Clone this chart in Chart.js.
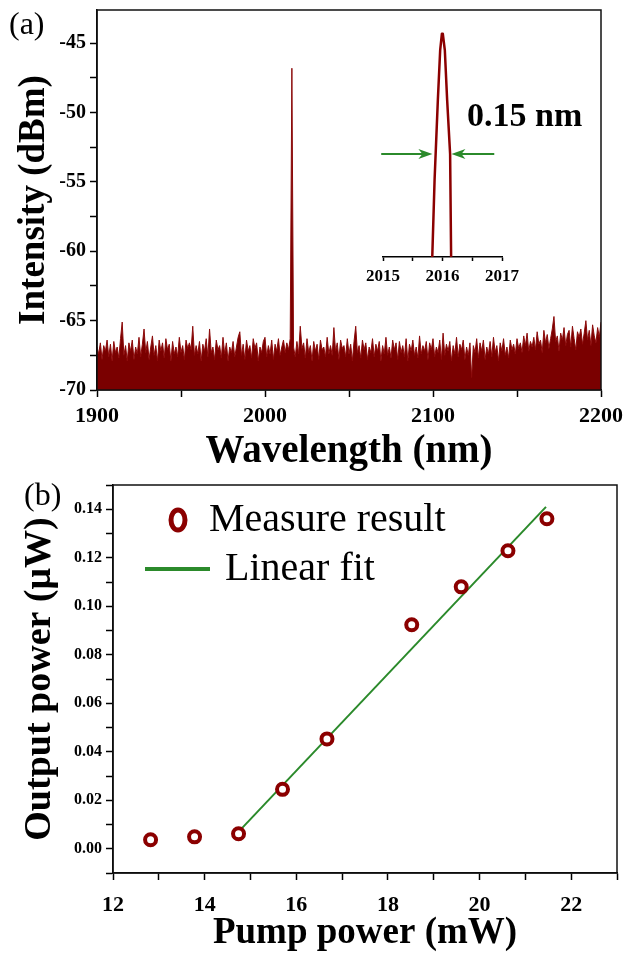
<!DOCTYPE html>
<html>
<head>
<meta charset="utf-8">
<script src="https://cdn.jsdelivr.net/npm/chart.js@4/dist/chart.umd.min.js"></script>
<style>
  body { margin: 0; background: #fff; }
  #wrap { position: relative; width: 629px; height: 956px; }
  canvas { position: absolute; }
</style>
</head>
<body>
<div id="wrap">
  <canvas id="spec" width="629" height="475" style="left:0;top:0"></canvas>
  <canvas id="inset" width="240" height="275" style="left:360px;top:20px"></canvas>
  <canvas id="power" width="629" height="486" style="left:0;top:470px"></canvas>
</div>
<script>
// (a) spectrum, one sample per nm from 1900 nm
var specStart = 1900;
var specStep = 1;
var specIntensity = [
  -66.9,-67.4,-66.6,-67.8,-66.8,-67.2,-66.4,-67.6,-66.7,-67.9,
  -66.5,-67.3,-66.9,-67.7,-66.3,-65.1,-67.5,-66.8,-67.9,-66.6,
  -67.2,-66.4,-67.8,-66.9,-67.4,-66.2,-67.6,-66.7,-65.6,-67.3,
  -66.5,-67.8,-66.9,-66.1,-67.5,-66.8,-67.9,-66.4,-67.2,-66.6,
  -67.7,-66.3,-67.1,-66.7,-67.9,-66.5,-67.4,-66.9,-67.6,-66.2,
  -67.3,-66.8,-67.8,-66.4,-67.0,-66.6,-67.1,-65.4,-67.5,-66.8,
  -67.4,-66.5,-67.9,-66.7,-67.2,-66.3,-67.6,-65.6,-67.3,-66.9,
  -67.8,-66.4,-67.1,-66.8,-67.7,-66.2,-67.4,-66.6,-67.9,-66.9,
  -67.3,-66.5,-67.6,-66.9,-66.2,-65.8,-67.5,-66.7,-67.8,-66.4,
  -67.2,-66.8,-67.7,-66.3,-67.0,-66.6,-67.9,-66.9,-67.3,-66.5,
  -66.2,-67.6,-66.8,-67.4,-66.4,-67.8,-66.7,-67.2,-66.3,-67.5,
  -66.9,-66.4,-67.3,-66.6,-67.1,-66.3,-46.8,-66.9,-67.6,-66.5,
  -67.4,-65.4,-67.0,-66.6,-67.7,-66.3,-67.3,-66.8,-67.9,-66.5,
  -67.2,-66.7,-67.8,-66.4,-67.1,-66.9,-67.6,-66.2,-67.4,-66.8,
  -67.5,-65.5,-67.2,-66.6,-67.8,-66.4,-67.0,-66.8,-67.6,-66.3,
  -67.4,-66.7,-67.9,-66.5,-65.4,-67.3,-66.8,-67.7,-66.4,-67.1,
  -66.6,-67.8,-66.9,-67.3,-66.3,-67.6,-66.7,-67.2,-66.5,-67.9,
  -66.8,-67.4,-66.2,-67.5,-66.9,-67.7,-66.4,-67.1,-66.6,-67.8,
  -66.5,-67.3,-66.8,-67.6,-66.3,-67.9,-66.7,-67.2,-66.4,-67.5,
  -66.9,-67.7,-66.1,-67.4,-66.8,-67.2,-66.5,-67.8,-66.6,-67.1,
  -66.3,-67.6,-66.9,-67.3,-66.4,-67.8,-65.9,-67.5,-66.7,-67.2,
  -66.5,-67.9,-66.8,-67.4,-66.2,-67.6,-66.7,-67.1,-66.4,-67.8,
  -66.9,-67.5,-66.6,-69.1,-66.8,-67.3,-66.3,-67.7,-66.6,-67.2,
  -66.4,-67.8,-66.9,-67.4,-66.5,-67.6,-66.2,-67.3,-66.8,-67.9,
  -66.6,-67.2,-66.3,-67.5,-66.9,-67.7,-66.4,-67.1,-66.7,-67.4,
  -66.3,-67.0,-66.6,-67.3,-66.1,-66.8,-65.9,-67.2,-66.5,-66.9,
  -66.2,-67.1,-65.8,-66.7,-66.4,-67.3,-65.7,-66.6,-66.0,-67.0,
  -66.3,-65.6,-64.7,-66.5,-66.1,-67.2,-65.9,-66.4,-65.5,-66.8,
  -66.0,-65.7,-66.9,-65.4,-66.3,-67.1,-65.8,-66.2,-65.6,-66.7,
  -65.9,-65.0,-66.4,-65.7,-66.8,-65.3,-66.1,-66.6,-65.5,-66.2,
  -65.1
];

// inset: zoom on the lasing line
var insetWavelength = [2015.828, 2015.867, 2015.922, 2015.961, 2015.990, 2016.005, 2016.039, 2016.078, 2016.128, 2016.145];
var insetIntensity  = [-70, -61.0, -51.7, -45.9, -44.0, -44.0, -45.9, -51.7, -58.0, -70];

// (b) output power vs pump power
var pumpPower   = [12.82, 13.78, 14.74, 15.70, 16.67, 18.52, 19.60, 20.62, 21.47];
var outputPower = [0.0037, 0.0049, 0.0062, 0.0245, 0.0453, 0.0924, 0.1080, 0.1229, 0.1361];
var fitPump   = [14.80, 21.45];
var fitOutput = [0.0082, 0.1410];
var seriesNames = ['Measure result', 'Linear fit'];

var SERIF = "'Liberation Serif', 'Times New Roman', serif";
Chart.defaults.font.family = SERIF;
Chart.defaults.color = '#000';

function pts(xs, ys) {
  return xs.map(function (x, i) { return { x: x, y: ys[i] }; });
}

var frame = {
  id: 'frame',
  afterDraw: function (chart) {
    var a = chart.chartArea, c = chart.ctx;
    c.save();
    c.strokeStyle = '#111';
    c.lineWidth = 1.5;
    c.strokeRect(a.left, a.top, a.right - a.left, a.bottom - a.top);
    c.restore();
  }
};

var tag = {
  id: 'tag',
  afterDraw: function (chart, args, opts) {
    var c = chart.ctx;
    c.save();
    c.font = '32px ' + SERIF;
    c.fillStyle = '#000';
    c.textBaseline = 'middle';
    c.fillText(opts.text, opts.x, opts.y);
    c.restore();
  }
};

function tickGrid() {
  return { drawOnChartArea: false, tickLength: 7, tickWidth: 1.5, tickColor: '#000' };
}
var axisBorder = { color: '#000', width: 1.5 };

function fixWidth(w) {
  return function (s) { s.width = w; s.paddingTop = 0; s.paddingBottom = 0; };
}

// ---------- (a) spectrum ----------
var specData = specIntensity.map(function (v, i) { return { x: specStart + i * specStep, y: v }; });

new Chart(document.getElementById('spec'), {
  type: 'line',
  data: {
    datasets: [{
      data: specData,
      borderColor: '#8b0a0a',
      backgroundColor: '#7a0000',
      borderWidth: 1,
      pointRadius: 0,
      tension: 0,
      fill: 'start'
    }]
  },
  options: {
    responsive: false,
    animation: false,
    layout: { padding: { top: 10, right: 25, left: 0, bottom: 0 } },
    plugins: { legend: { display: false }, tooltip: { enabled: false },
      tag: { text: '(a)', x: 9, y: 26 } },
    scales: {
      x: {
        type: 'linear', min: 1900, max: 2200,
        afterFit: function (s) { s.height = 85; },
        border: axisBorder, grid: tickGrid(),
        ticks: { stepSize: 50, autoSkip: false, maxRotation: 0, padding: 6,
          font: { size: 22, weight: 'bold' },
          callback: function (v) { return v % 100 === 0 ? String(v) : ''; } },
        title: { display: true, text: 'Wavelength (nm)', font: { size: 39, weight: 'bold' }, padding: 0 }
      },
      y: {
        min: -70, max: -42.6,
        afterFit: fixWidth(97),
        border: axisBorder, grid: tickGrid(),
        ticks: { stepSize: 2.5, includeBounds: false, autoSkip: false, padding: 4,
          font: { size: 20, weight: 'bold' },
          callback: function (v) { return v % 5 === 0 ? String(v) : ''; } },
        title: { display: true, text: 'Intensity (dBm)', font: { size: 37, weight: 'bold' }, padding: { top: 12, bottom: 0 } }
      }
    }
  },
  plugins: [frame, tag]
});

// ---------- inset ----------
var widthMark = {
  id: 'widthMark',
  afterDraw: function (chart) {
    var c = chart.ctx, xs = chart.scales.x, ys = chart.scales.y;
    var y = ys.getPixelForValue(-58);
    function arrow(from, to) {
      var x0 = xs.getPixelForValue(from), x1 = xs.getPixelForValue(to);
      var d = x1 > x0 ? 1 : -1;
      c.beginPath();
      c.moveTo(x0, y);
      c.lineTo(x1 - d * 8, y);
      c.stroke();
      c.beginPath();
      c.moveTo(x1, y);
      c.lineTo(x1 - d * 14, y - 5);
      c.lineTo(x1 - d * 10, y);
      c.lineTo(x1 - d * 14, y + 5);
      c.closePath();
      c.fill();
    }
    c.save();
    c.strokeStyle = '#2b8a2b';
    c.fillStyle = '#2b8a2b';
    c.lineWidth = 2;
    arrow(2014.97, 2015.83);
    arrow(2016.87, 2016.15);
    c.fillStyle = '#000';
    c.font = 'bold 34px ' + SERIF;
    c.textBaseline = 'middle';
    c.fillText('0.15 nm', 107, 97);
    c.restore();
  }
};

new Chart(document.getElementById('inset'), {
  type: 'line',
  data: {
    datasets: [{
      data: pts(insetWavelength, insetIntensity),
      borderColor: '#8b0000',
      borderWidth: 2.5,
      borderJoinStyle: 'round',
      borderCapStyle: 'round',
      pointRadius: 0,
      tension: 0,
      fill: false
    }]
  },
  options: {
    responsive: false,
    animation: false,
    layout: { padding: { top: 0, right: 98, left: 23, bottom: 0 } },
    plugins: { legend: { display: false }, tooltip: { enabled: false } },
    scales: {
      x: {
        type: 'linear', min: 2015, max: 2017,
        afterFit: function (s) { s.height = 38; },
        border: axisBorder,
        grid: { drawOnChartArea: false, tickLength: 4, tickWidth: 1.5, tickColor: '#000' },
        ticks: { stepSize: 0.5, autoSkip: false, maxRotation: 0, padding: 5,
          font: { size: 17, weight: 'bold' },
          callback: function (v) { return v % 1 === 0 ? String(v) : ''; } }
      },
      y: { display: false, min: -70, max: -42.4 }
    }
  },
  plugins: [widthMark]
});

// ---------- (b) output power ----------
var powerLegend = {
  id: 'powerLegend',
  afterDraw: function (chart) {
    var c = chart.ctx, ds = chart.data.datasets;
    c.save();
    c.strokeStyle = ds[0].borderColor;
    c.lineWidth = 5;
    c.beginPath();
    c.ellipse(178, 50, 7, 10, 0, 0, Math.PI * 2);
    c.stroke();
    c.strokeStyle = ds[1].borderColor;
    c.lineWidth = 4;
    c.beginPath();
    c.moveTo(145, 99);
    c.lineTo(210, 99);
    c.stroke();
    c.fillStyle = '#000';
    c.font = '40px ' + SERIF;
    c.textBaseline = 'middle';
    c.fillText(ds[0].label, 209, 50);
    c.fillText(ds[1].label, 225, 99);
    c.restore();
  }
};

new Chart(document.getElementById('power'), {
  type: 'scatter',
  data: {
    datasets: [{
      label: seriesNames[0],
      data: pts(pumpPower, outputPower),
      borderColor: '#8b0000',
      backgroundColor: '#fff',
      borderWidth: 4,
      pointRadius: 5.5,
      showLine: false,
      order: 0
    }, {
      label: seriesNames[1],
      data: pts(fitPump, fitOutput),
      borderColor: '#2b8a2b',
      borderWidth: 2,
      pointRadius: 0,
      showLine: true,
      order: 1
    }]
  },
  options: {
    responsive: false,
    animation: false,
    layout: { padding: { top: 15, right: 8, left: 0, bottom: 0 } },
    plugins: { legend: { display: false }, tooltip: { enabled: false },
      tag: { text: '(b)', x: 24, y: 27 } },
    scales: {
      x: {
        type: 'linear', min: 12, max: 23,
        afterFit: function (s) { s.height = 83; },
        border: axisBorder, grid: tickGrid(),
        ticks: { stepSize: 1, autoSkip: false, maxRotation: 0, padding: 12,
          font: { size: 22, weight: 'bold' },
          callback: function (v) { return v % 2 === 0 ? String(v) : ''; } },
        title: { display: true, text: 'Pump power (mW)', font: { size: 37, weight: 'bold' }, padding: 0 }
      },
      y: {
        min: -0.01, max: 0.15,
        afterFit: fixWidth(113),
        border: axisBorder, grid: tickGrid(),
        ticks: { stepSize: 0.01, autoSkip: false, padding: 4,
          font: { size: 16, weight: 'bold' },
          callback: function (v) {
            var c = Math.round(v * 100);
            return (c >= 0 && c % 2 === 0) ? (c / 100).toFixed(2) : '';
          } },
        title: { display: true, text: 'Output power (\u03bcW)', font: { size: 38, weight: 'bold' }, padding: { top: 17, bottom: 0 } }
      }
    }
  },
  plugins: [frame, tag, powerLegend]
});
</script>
</body>
</html>
